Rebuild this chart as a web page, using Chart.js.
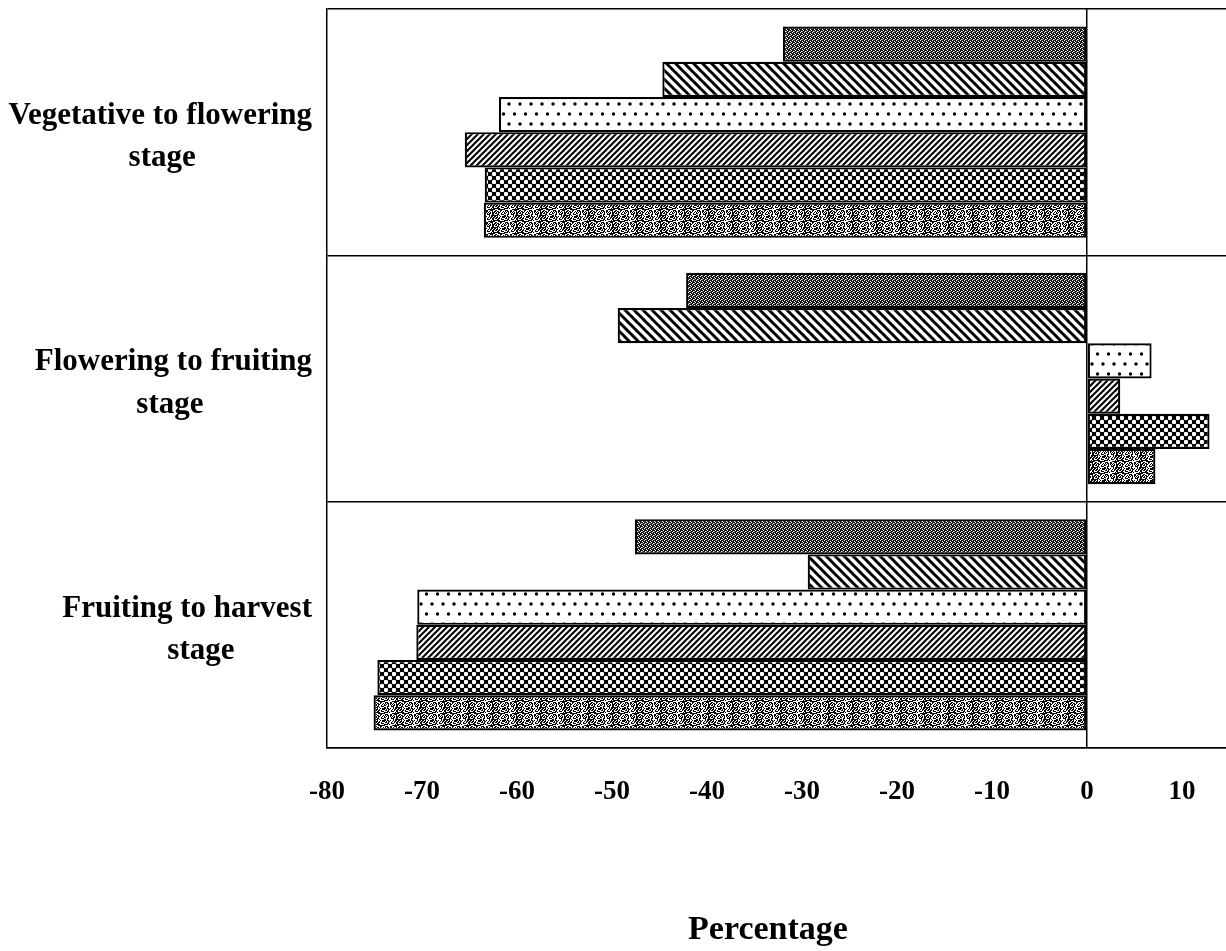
<!DOCTYPE html>
<html>
<head>
<meta charset="utf-8">
<script src="https://cdn.jsdelivr.net/npm/chart.js@4"></script>
<style>
  html, body { margin: 0; padding: 0; background: #fff; overflow: hidden; }
  #chart { display: block; }
</style>
</head>
<body>
<canvas id="chart" width="1226" height="951"></canvas>
<script>
// categories (second line padded so "stage" sits under the middle of its own first line)
const stages = [
    ['Vegetative to flowering', 'stage               '],
    ['Flowering to fruiting', 'stage              '],
    ['Fruiting to harvest', 'stage          ']
];
const seriesNames = ['S1', 'S2', 'S3', 'S4', 'S5', 'S6'];

// percentage change, one array per series (top bar to bottom bar in each group)
const s1 = [-32.0, -42.2, -47.6];
const s2 = [-44.7, -49.4, -29.4];
const s3 = [-61.9, 6.8, -70.5];
const s4 = [-65.5, 3.5, -70.6];
const s5 = [-63.4, 12.9, -74.7];
const s6 = [-63.5, 7.2, -75.1];

const xTicks = [-80, -70, -60, -50, -40, -30, -20, -10, 0, 10];

function makePattern(w, h, draw){
    const c = document.createElement('canvas');
    c.width = w; c.height = h;
    const g = c.getContext('2d');
    draw(g, w, h);
    return g.createPattern(c, 'repeat');
}

// dark stipple
const pDark = makePattern(4, 4, function(g){
    g.fillStyle = '#151515'; g.fillRect(0, 0, 4, 4);
    g.fillStyle = '#fff';
    g.fillRect(0, 0, 1, 1); g.fillRect(2, 1, 1, 1);
    g.fillRect(1, 3, 1, 1); g.fillRect(3, 2, 1, 1);
    g.fillStyle = '#888';
    g.fillRect(2, 3, 1, 1);
});
// wide "\" hatch
const pBack = makePattern(9, 9, function(g, w, h){
    g.fillStyle = '#fff'; g.fillRect(0, 0, w, h);
    g.strokeStyle = '#000'; g.lineWidth = 3;
    [-w, 0, w].forEach(function(k){
        g.beginPath(); g.moveTo(k - 1, -1); g.lineTo(k + w + 1, h + 1); g.stroke();
    });
});
// sparse dots
const pDots = makePattern(11, 20, function(g, w, h){
    g.fillStyle = '#fff'; g.fillRect(0, 0, w, h);
    g.fillStyle = '#000';
    g.beginPath(); g.arc(3, 4, 1.7, 0, Math.PI * 2); g.fill();
    g.beginPath(); g.arc(8.5, 14, 1.7, 0, Math.PI * 2); g.fill();
});
// thin "/" hatch
const pFwd = makePattern(6, 6, function(g, w, h){
    g.fillStyle = '#fff'; g.fillRect(0, 0, w, h);
    g.strokeStyle = '#000'; g.lineWidth = 2;
    [-w, 0, w].forEach(function(k){
        g.beginPath(); g.moveTo(k - 1, h + 1); g.lineTo(k + w + 1, -1); g.stroke();
    });
});
// black with white round dots
const pCheck = makePattern(8, 8, function(g){
    g.fillStyle = '#000'; g.fillRect(0, 0, 8, 8);
    g.fillStyle = '#fff';
    g.beginPath(); g.arc(2, 2, 2.2, 0, Math.PI * 2); g.fill();
    g.beginPath(); g.arc(6, 6, 2.2, 0, Math.PI * 2); g.fill();
});
// grey grainy texture
const pGrain = makePattern(24, 12, function(g, w, h){
    g.fillStyle = '#fff'; g.fillRect(0, 0, w, h);
    g.fillStyle = '#000';
    for (let y = 0; y < h; y++){
        for (let x = 0; x < w; x++){
            const v = (x * 37 + y * 91 + ((x * y) % 7) * 13) % 11;
            if (v < 6) g.fillRect(x, y, 1, 1);
        }
    }
});

const fills = [pDark, pBack, pDots, pFwd, pCheck, pGrain];
const values = [s1, s2, s3, s4, s5, s6];

const serif = "'Liberation Serif', 'Times New Roman', serif";

new Chart(document.getElementById('chart'), {
    type: 'bar',
    data: {
        labels: stages,
        datasets: values.map(function(v, i){
            return {
                label: seriesNames[i],
                data: v,
                backgroundColor: fills[i],
                borderColor: '#000',
                borderWidth: 2.2,
                borderSkipped: false
            };
        })
    },
    options: {
        indexAxis: 'y',
        responsive: false,
        animation: false,
        categoryPercentage: 0.858,
        barPercentage: 1,
        layout: { padding: { top: 9, left: 0, right: 0, bottom: 0 } },
        plugins: {
            legend: { display: false },
            tooltip: { enabled: false }
        },
        scales: {
            x: {
                min: -80,
                max: 14.63,
                afterBuildTicks: function(scale){
                    scale.ticks = xTicks.map(function(v){ return { value: v }; });
                },
                ticks: {
                    includeBounds: false,
                    color: '#000',
                    padding: 28,
                    font: { family: serif, size: 27, weight: 'bold' }
                },
                grid: {
                    drawTicks: false,
                    color: function(ctx){ return ctx.tick && ctx.tick.value === 0 ? '#000' : 'rgba(0,0,0,0)'; },
                    lineWidth: 1.5
                },
                border: { display: true, color: '#000', width: 1.5 },
                title: {
                    display: true,
                    text: 'Percentage  ',
                    color: '#000',
                    font: { family: serif, size: 34, weight: 'bold' },
                    padding: { top: 0, bottom: 0 }
                },
                afterFit: function(scale){
                    scale.height = 203;
                    scale.paddingLeft = 0;
                    scale.paddingRight = 0;
                }
            },
            y: {
                ticks: {
                    color: '#000',
                    padding: 15,
                    crossAlign: 'near',
                    labelOffset: 5,
                    font: { family: serif, size: 31, weight: 'bold', lineHeight: 1.36 }
                },
                grid: {
                    drawTicks: false,
                    color: '#000',
                    lineWidth: 1.5
                },
                border: { display: true, color: '#000', width: 1.5 },
                afterFit: function(scale){
                    scale.width = 327;
                    scale.paddingTop = 0;
                    scale.paddingBottom = 0;
                }
            }
        }
    }
});
</script>
</body>
</html>
